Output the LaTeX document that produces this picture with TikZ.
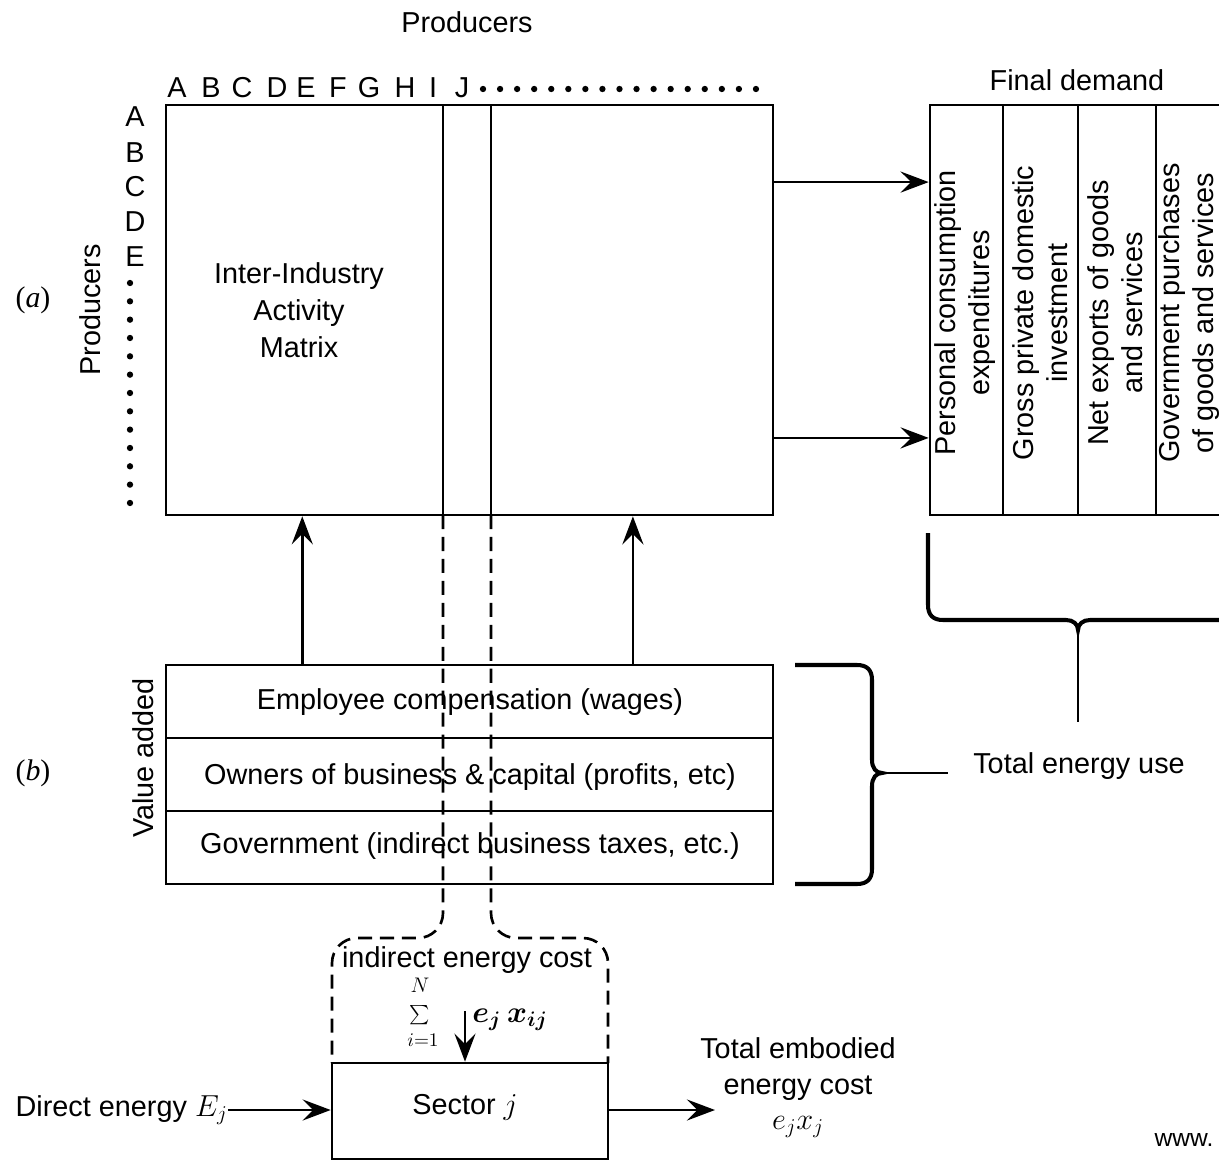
\documentclass[tikz,border=0pt]{standalone}
\usepackage{amsmath}
\usepackage{fontspec}
\setmainfont{Liberation Sans}
\newfontfamily\serifit{Liberation Serif}
\usetikzlibrary{arrows.meta,calc}
\newdimen\px \px=0.02cm
\begin{document}
\begin{tikzpicture}[x=0.02cm,y=-0.02cm,
  every node/.style={font=\fontsize{16.4}{20}\selectfont, inner sep=0pt},
  frame/.style={draw, line width=1.5pt, rectangle},
  rule/.style={line width=1.5pt},
  arr/.style={line width=1.5pt, -{Stealth[length=16pt,width=12pt,inset=6pt]}},
  dashline/.style={line width=1.5pt, dash pattern=on 8pt off 4.5pt},
  bracepath/.style={line width=2.3pt},
  stem/.style={line width=1.4pt},
  dot/.style={fill=black},
  summath/.style={font=\fontsize{11}{12}\selectfont}]
\useasboundingbox (0,0) rectangle (1219,1162);

% ---------- (a) inter-industry activity matrix ----------
\node (prodtop) at (467,22) {Producers};
\foreach \l/\x in {A/177,B/211,C/242,D/277,E/306,F/338,G/369,H/405,I/433,J/462}
  \node (col\l) at (\x,88) {\l};
\foreach \i in {0,...,16}
  \fill[dot] (483+\i*17.06,89) circle[radius=1.8pt];

\foreach \l/\y in {A/117,B/153,C/187,D/222,E/257}
  \node (row\l) at (135,\y) {\l};
\foreach \i in {0,...,12}
  \fill[dot] (130,283+\i*18.33) circle[radius=1.8pt];
\node[rotate=90] (prodleft) at (90,310) {Producers};
\node[font=\fontsize{17}{20}\selectfont\serifit] (lbla) at (33,300) {(\textit{a})};

\node[frame, minimum width=607*\px, minimum height=410*\px] (mat) at (469.5,310) {};
\draw[rule] (443,105) -- (443,515);
\draw[rule] (491,105) -- (491,515);
\node[align=center, font=\fontsize{16.4}{21}\selectfont] (mattext) at (299,310)
  {Inter-Industry\\Activity\\Matrix};

% ---------- final demand ----------
\node (fdlabel) at (1077,80) {Final demand};
\node[frame, minimum width=302*\px, minimum height=410*\px] (fd) at (1081,310) {};
\draw[rule] (1003,105) -- (1003,515);
\draw[rule] (1078,105) -- (1078,515);
\draw[rule] (1156,105) -- (1156,515);
\node[rotate=90, align=center, font=\fontsize{16.4}{19.5}\selectfont] (fd1) at (965,313)
  {Personal consumption\\expenditures};
\node[rotate=90, align=center, font=\fontsize{16.4}{19.5}\selectfont] (fd2) at (1040,313)
  {Gross private domestic\\investment};
\node[rotate=90, align=center, font=\fontsize{16.4}{19.5}\selectfont] (fd3) at (1115,313)
  {Net exports of goods\\and services};
\node[rotate=90, align=center, font=\fontsize{16.4}{19.5}\selectfont] (fd4) at (1189,313)
  {Government purchases\\of goods and services};

\draw[arr] ($(mat.north east)!0.19!(mat.south east)$) -- ($(fd.north west)!0.19!(fd.south west)$);
\draw[arr] ($(mat.north east)!0.81!(mat.south east)$) -- ($(fd.north west)!0.81!(fd.south west)$);

% ---------- (b) value added ----------
\node[frame, minimum width=607*\px, minimum height=219*\px] (va) at (469.5,774.5) {};
\draw[rule] (166,738) -- (773,738);
\draw[rule] (166,811) -- (773,811);
\node (va1) at (470,702) {Employee compensation (wages)};
\node (va2) at (470,777) {Owners of business \& capital (profits, etc)};
\node (va3) at (470,846) {Government (indirect business taxes, etc.)};
\node[rotate=90] (valabel) at (143,758) {Value added};
\node[font=\fontsize{17}{20}\selectfont\serifit] (lblb) at (33,773) {(\textit{b})};

\draw[arr] ($(va.north west)!0.2257!(va.north east)$) -- ($(mat.south west)!0.2257!(mat.south east)$);
\draw[arr] ($(va.north west)!0.768!(va.north east)$) -- ($(mat.south west)!0.768!(mat.south east)$);

% ---------- braces leading to total energy use ----------
\coordinate (vatip) at (882,773);
\draw[bracepath] (795,665) -- (857,665) .. controls (867,665) and (872,670) .. (872,680)
  -- (872,760) .. controls (872,768) and (876,773) .. (vatip)
  .. controls (876,773) and (872,778) .. (872,786) -- (872,869)
  .. controls (872,879) and (867,884) .. (857,884) -- (795,884);
\coordinate (vastem) at (948,773);
\draw[stem] (vatip) -- (vastem);

\coordinate (fdtip) at (1078,630);
\draw[bracepath] (928,533) -- (928,605) .. controls (928,615) and (933,620) .. (943,620)
  -- (1066,620) .. controls (1073,620) and (1078,624) .. (fdtip)
  .. controls (1078,624) and (1083,620) .. (1090,620) -- (1232,620);
\coordinate (fdstem) at (1078,722);
\draw[stem] (fdtip) -- (fdstem);

\node (total) at (1079,766) {Total energy use};

% ---------- sector j and its energy flows ----------
\draw[dashline, rounded corners=0.5cm] (443,515) -- (443,938) -- (332,938) -- (332,1063);
\draw[dashline, rounded corners=0.5cm] (491,515) -- (491,938) -- (608,938) -- (608,1063);
\node (indirect) at (467,960) {indirect energy cost};

\node[frame, minimum width=276*\px, minimum height=96*\px] (sec) at (470,1111) {};
\node (sectext) at (465,1107) {Sector $j$};

% summation over i = 1 .. N, set as a small stacked symbol
\node[summath, font=\fontsize{12}{13}\selectfont] (sumN) at (420,985) {$N$};
\node[summath] (sumS) at (420,1015) {$\textstyle\sum$};
\node[summath] (sumI) at (423,1040) {$i{=}1$};
\coordinate (sumtop) at (465,1011);
\draw[arr] (sumtop) -- (sumtop |- sec.north);
\node[anchor=west, font=\fontsize{17}{20}\selectfont] (eterm) at (472,1020) {$\boldsymbol{e_j\,x_{ij}}$};

\node[anchor=east] (direct) at (228,1110) {Direct energy $E_j$};
\draw[arr] (direct.east) -- (direct.east -| sec.west);

\coordinate (outend) at (715,1110);
\draw[arr] (direct.east -| sec.east) -- (outend);
\node[align=center, font=\fontsize{16.4}{20}\selectfont] (embodied) at (798,1088)
  {Total embodied\\energy cost\\$e_jx_j$};

\node[font=\fontsize{14}{16}\selectfont] (www) at (1184,1140) {www.};
\end{tikzpicture}
\end{document}
